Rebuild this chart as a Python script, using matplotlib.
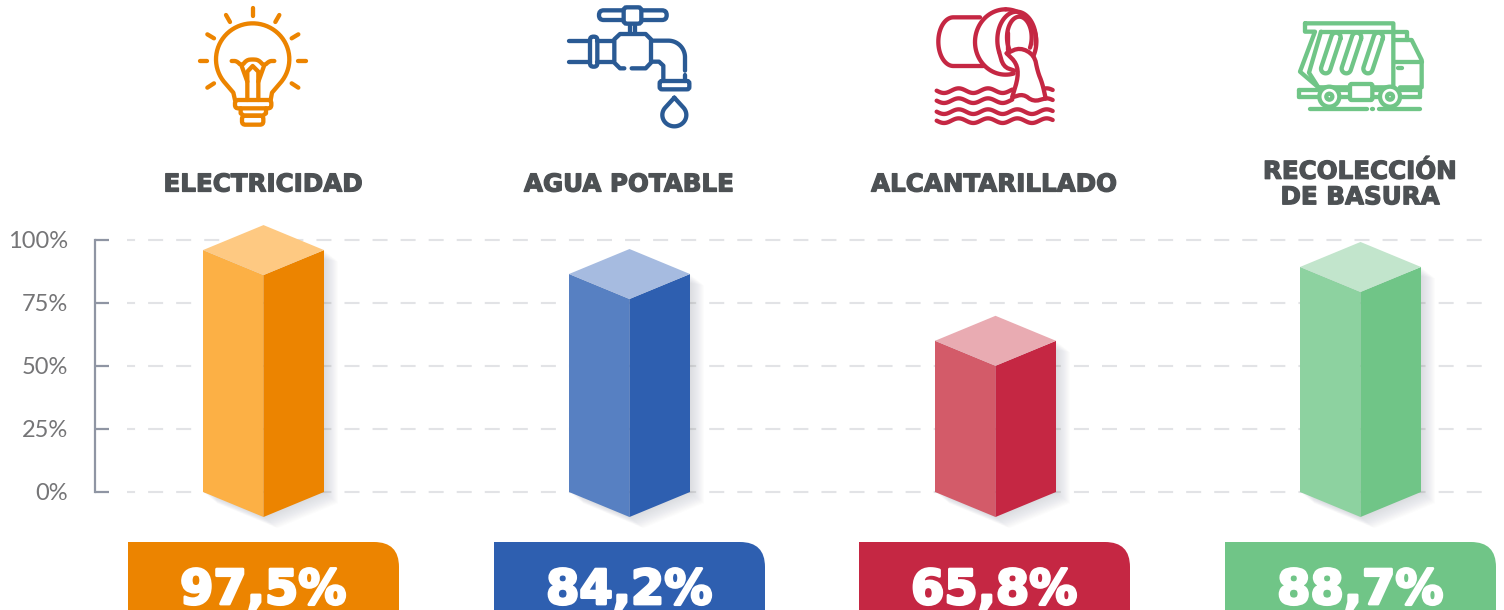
"""Service coverage infographic: four isometric bars with icons and value banners."""
import numpy as np
import matplotlib

matplotlib.use("Agg")
import matplotlib.pyplot as plt
import matplotlib.patheffects as pe
from matplotlib.patches import Polygon, PathPatch, Circle, FancyBboxPatch
from matplotlib.path import Path

plt.rcParams["lines.scale_dashes"] = False
plt.rcParams["font.family"] = ["DejaVu Sans"]

# ---------------------------------------------------------------------------
# Data
# ---------------------------------------------------------------------------
services = ["ELECTRICIDAD", "AGUA POTABLE", "ALCANTARILLADO", "RECOLECCIÓN\nDE BASURA"]
value_labels = ["97,5%", "84,2%", "65,8%", "88,7%"]
# bar heights as drawn in the picture (they differ a little from the printed labels)
bar_heights = [96.0, 86.5, 60.0, 89.3]
y_ticks = [0, 25, 50, 75, 100]
y_tick_labels = ["0%", "25%", "50%", "75%", "100%"]

dark_colors = ["#EC8400", "#2E5FB0", "#C52743", "#70C587"]
mid_colors = ["#FCB045", "#5780C2", "#D35B69", "#8DD2A0"]
light_colors = ["#FEC982", "#A6BBE0", "#E9ABB2", "#C2E5CC"]

W, H = 1504, 610
Y0_PX, Y100_PX = 492, 240
PX = 100 / (Y0_PX - Y100_PX)  # percent per pixel

fig = plt.figure(figsize=(W / 100, H / 100), dpi=100)

# main axes: x in pixels, y in percent
ax = fig.add_axes([0, 0, 1, 1])
ax.set_xlim(0, W)
ax.set_ylim((Y0_PX - H) * PX, Y0_PX * PX)
ax.axis("off")

# overlay in plain pixels, for icons and banners
ov = fig.add_axes([0, 0, 1, 1])
ov.set_xlim(0, W)
ov.set_ylim(H, 0)
ov.axis("off")
ov.patch.set_alpha(0)

# ---------------------------------------------------------------------------
# Grid and y axis
# ---------------------------------------------------------------------------
for t in y_ticks:
    ax.plot([127, 1494], [t, t], color="#E2E3E6", lw=1.5,
            linestyle=(5.0, (10.8, 9.4)), zorder=1, solid_capstyle="butt")
    ax.plot([95, 109], [t, t], color="#8F95A3", lw=1.6, zorder=2, solid_capstyle="butt")
ax.plot([95, 95], [y_ticks[0], y_ticks[-1]], color="#8F95A3", lw=1.6, zorder=2)
for t, lab in zip(y_ticks, y_tick_labels):
    ax.text(68, t - 0.6, lab, ha="right", va="center", fontsize=17, color="#757577",
            family=["Lato", "DejaVu Sans"], zorder=3)

# ---------------------------------------------------------------------------
# Isometric bars
# ---------------------------------------------------------------------------
bar_lefts = [203, 569, 935, 1300]
half = 60.5
depth = 25 * PX

for x0, h, dark, mid, light in zip(bar_lefts, bar_heights, dark_colors, mid_colors, light_colors):
    xc, x1 = x0 + half, x0 + 2 * half
    # soft shadow to the right and below
    for k in range(1, 15):
        dx, dy = k, k * 0.8 * PX
        ax.add_patch(Polygon([(x0 + dx, -dy), (xc + dx, -depth - dy), (x1 + dx, -dy),
                              (x1 + dx, h - dy), (xc, h), (x0, h)],
                             fc="#6B6F7A", ec="none", alpha=0.016, zorder=3))
    ax.add_patch(Polygon([(x0, 0), (xc, -depth), (xc, h - depth), (x0, h)],
                         fc=mid, ec="none", zorder=4))
    ax.add_patch(Polygon([(xc, -depth), (x1, 0), (x1, h), (xc, h - depth)],
                         fc=dark, ec="none", zorder=4))
    ax.add_patch(Polygon([(x0, h), (xc, h + depth), (x1, h), (xc, h - depth)],
                         fc=light, ec="none", zorder=4))

# ---------------------------------------------------------------------------
# Headers and banners
# ---------------------------------------------------------------------------
header_centers = [263, 629, 994, 1360]
banner_lefts = [128, 494, 859, 1225]
banner_w = 271
banner_top = 542
banner_r = 25

for name, xc in zip(services, header_centers):
    ov.text(xc, 184.5, name, ha="center", va="center", fontsize=17.7, fontweight="bold",
            color="#4D5154", linespacing=1.08,
            path_effects=[pe.withStroke(linewidth=0.9, foreground="#4D5154")])

for x0, col, lab in zip(banner_lefts, dark_colors, value_labels):
    x1 = x0 + banner_w
    verts = [(x0, H + 5), (x0, banner_top), (x1 - banner_r, banner_top),
             (x1, banner_top), (x1, banner_top + banner_r), (x1, H + 5), (x0, H + 5)]
    codes = [Path.MOVETO, Path.LINETO, Path.LINETO, Path.CURVE3, Path.CURVE3,
             Path.LINETO, Path.CLOSEPOLY]
    ov.add_patch(PathPatch(Path(verts, codes), fc=col, ec="none"))
    ov.text(x0 + banner_w / 2 - 0.5, 604, lab, ha="center", va="baseline", fontsize=34.5,
            fontweight="bold", color="white",
            path_effects=[pe.withStroke(linewidth=2.0, foreground="white")])


# ---------------------------------------------------------------------------
# Icons (zoomed-crop coordinates, three times the pixel size)
# ---------------------------------------------------------------------------
LW = 3.1


def stroke(ox, oy, pts, color, lw=LW, closed=False):
    pts = np.asarray(pts, dtype=float) / 3 + [ox, oy]
    if closed:
        pts = np.vstack([pts, pts[:1]])
    ov.plot(pts[:, 0], pts[:, 1], color=color, lw=lw, solid_capstyle="round",
            solid_joinstyle="round")


def smooth(pts, n=3):
    # corner cutting, keeps the end points
    pts = np.asarray(pts, dtype=float)
    for _ in range(n):
        q = 0.75 * pts[:-1] + 0.25 * pts[1:]
        r = 0.25 * pts[:-1] + 0.75 * pts[1:]
        mid = np.empty((2 * len(q), 2))
        mid[0::2], mid[1::2] = q, r
        pts = np.vstack([pts[:1], mid, pts[-1:]])
    return pts


def arc(cx, cy, rx, ry, a0, a1, n=50):
    t = np.radians(np.linspace(a0, a1, n))
    return np.column_stack([cx + rx * np.cos(t), cy - ry * np.sin(t)])


def stadium(p, q, r):
    # outline of a slanted pill between the end centres p and q
    ang = np.degrees(np.arctan2(-(q[1] - p[1]), q[0] - p[0]))
    return np.vstack([arc(p[0], p[1], r, r, ang + 90, ang + 270, 16),
                      arc(q[0], q[1], r, r, ang - 90, ang + 90, 16)])


def rrect(ox, oy, x0, y0, x1, y1, r, color, lw=LW, fc="none", zorder=2):
    ov.add_patch(FancyBboxPatch((ox + (x0 + r) / 3, oy + (y0 + r) / 3),
                                (x1 - x0 - 2 * r) / 3, (y1 - y0 - 2 * r) / 3,
                                boxstyle=f"round,pad={r / 3},rounding_size={r / 3}",
                                fc=fc, ec=color, lw=lw, zorder=zorder))


def ring(ox, oy, cx, cy, r, color, lw=LW, fc="none", zorder=3):
    ov.add_patch(Circle((ox + cx / 3, oy + cy / 3), r / 3, fc=fc, ec=color, lw=lw, zorder=zorder))


# light bulb
c, ox, oy = dark_colors[0], 180, 0
for seg in [[(218, 24), (218, 47)], [(138, 45), (150, 66)], [(298, 45), (286, 66)],
            [(82, 103), (102, 115)], [(355, 103), (335, 115)], [(60, 183), (82, 183)],
            [(355, 183), (378, 183)], [(82, 263), (102, 250)], [(355, 263), (335, 250)]]:
    stroke(ox, oy, seg, c)
outline = np.vstack([[(165, 300), (160, 278)], arc(218, 178, 110, 108, 218, -38),
                     [(276, 278), (272, 300)]])
stroke(ox, oy, outline, c)
rrect(ox, oy, 165, 300, 274, 325, 10, c)
stroke(ox, oy, [(182, 325), (182, 340), (192, 347), (248, 347), (258, 340), (258, 325)], c)
rrect(ox, oy, 186, 347, 250, 374, 10, c)
stroke(ox, oy, smooth([(155, 183), (170, 183), (185, 198), (200, 180), (218, 178), (236, 180),
                       (252, 198), (268, 183), (283, 183)], 2), c)
stroke(ox, oy, [(185, 198), (202, 245), (202, 300)], c)
stroke(ox, oy, [(252, 198), (235, 245), (235, 300)], c)
stroke(ox, oy, [(202, 245), (202, 215), (218, 198), (235, 215), (235, 245)], c)

# tap
c, ox, oy = "#2A5A94", 555, 0
rrect(ox, oy, 132, 31, 335, 60, 14, c)
rrect(ox, oy, 206, 22, 259, 71, 9, c, fc="white", zorder=3)
stroke(ox, oy, [(225, 72), (225, 100)], c)
stroke(ox, oy, [(240, 72), (240, 100)], c)
stroke(ox, oy, [(42, 122), (105, 122)], c)
stroke(ox, oy, [(42, 185), (105, 185)], c)
rrect(ox, oy, 105, 110, 127, 200, 10, c)
stroke(ox, oy, [(127, 122), (175, 122)], c)
stroke(ox, oy, [(127, 185), (175, 185)], c)
stroke(ox, oy, [(208, 205), (195, 205), (178, 188), (178, 118), (195, 102), (272, 102),
                (288, 118), (288, 188), (272, 205), (230, 205)], c)
stroke(ox, oy, np.vstack([[(290, 122), (340, 122)], arc(340, 172, 50, 50, 90, 0),
                          [(390, 212)]]), c)
stroke(ox, oy, [(290, 185), (312, 185), (325, 197), (325, 243)], c)
stroke(ox, oy, [(390, 226), (390, 243)], c)
rrect(ox, oy, 314, 243, 403, 268, 7, c)
stroke(ox, oy, np.vstack([[(358, 293)], arc(358, 345, 36, 34, 40, -220), [(358, 293)]]), c)

# drain pipe
c, ox, oy = dark_colors[2], 925, 0
stroke(ox, oy, np.vstack([[(165, 52), (85, 52)], arc(85, 125, 45, 73, 90, 270),
                          [(175, 198)]]), c)
stroke(ox, oy, arc(242, 126, 92, 98, 285, 90), c)
stroke(ox, oy, arc(242, 126, 92, 98, 90, -25), c)
stroke(ox, oy, arc(275, 120, 58, 85, -10, 205), c)
stroke(ox, oy, arc(283, 112, 37, 62, -30, 215), c)
stroke(ox, oy, [(248, 100), (248, 150)], c)
stroke(ox, oy, smooth([(222, 155), (235, 200), (268, 212)], 2), c)
for wy in [272, 302, 335, 362]:
    xs = np.linspace(35, 383, 90)
    wave = np.column_stack([xs, wy + 7 * np.sin((xs - 35) * 2 * np.pi / 88)])
    if wy < 310:
        stroke(ox, oy, wave[xs < 262], c)
        stroke(ox, oy, wave[xs > 358], c)
    else:
        stroke(ox, oy, wave, c)
stroke(ox, oy, smooth([(245, 160), (285, 142), (328, 165), (338, 215), (352, 250), (362, 295)], 2), c)
stroke(ox, oy, smooth([(245, 160), (275, 190), (280, 230), (262, 290)], 2), c)
stroke(ox, oy, smooth([(262, 292), (295, 282), (325, 305), (362, 295)], 2), c)

# garbage truck
c, ox, oy = dark_colors[3], 1285, 10
stroke(ox, oy, [(60, 40), (325, 40), (325, 232), (100, 232), (45, 185), (90, 65), (60, 65)],
       c, closed=True)
stroke(ox, oy, [(108, 65), (325, 65)], c)
stroke(ox, oy, [(108, 65), (72, 188), (100, 232)], c)
for top, bottom in [((153, 82), (122, 176)), ((215, 82), (184, 176)), ((280, 82), (249, 176))]:
    stroke(ox, oy, stadium(top, bottom, 14), c, closed=True)
stroke(ox, oy, [(330, 65), (365, 65), (365, 90)], c)
stroke(ox, oy, [(330, 90), (380, 90), (410, 150), (410, 232), (345, 232)], c)
stroke(ox, oy, [(330, 155), (410, 155)], c)
stroke(ox, oy, [(338, 175), (352, 175)], c)
for a, b in [(42, 105), (165, 195), (260, 285), (345, 405)]:
    stroke(ox, oy, [(a, 240), (b, 240)], c)
    stroke(ox, oy, [(a, 262), (b, 262)], c)
stroke(ox, oy, [(42, 240), (42, 262)], c)
stroke(ox, oy, [(405, 240), (405, 262)], c)
rrect(ox, oy, 195, 222, 262, 270, 5, c, fc="white", zorder=3)
for wx in [133, 315]:
    ring(ox, oy, wx, 260, 30, c, fc="white")
    ring(ox, oy, wx, 260, 9, c)
for a, b in [(50, 52), (75, 245), (262, 264), (282, 405)]:
    stroke(ox, oy, [(a, 297), (b, 297)], c)

fig.savefig("out.png", dpi=100)
print("[plot] saved out.png")
